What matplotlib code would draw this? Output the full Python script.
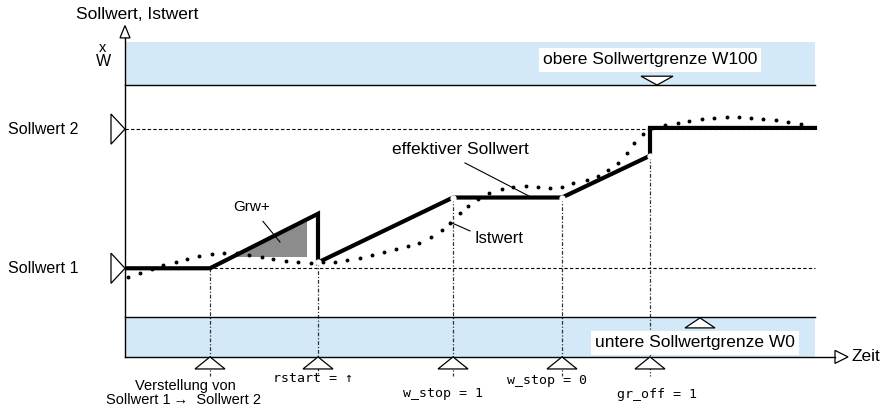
import matplotlib
matplotlib.use("Agg")
import matplotlib.pyplot as plt
from matplotlib.patches import Polygon, Rectangle

plt.rcParams['font.family'] = ['Liberation Sans', 'DejaVu Sans']

# Sollwert levels (0 = W0, 100 = W100)
w0 = 0
w100 = 100
sollwert1 = 21
sollwert2 = 81

# Schaltzeitpunkte
event_t = [85, 193, 328, 437, 525]
event_top = [21, 23.5, 51.5, 51.5, 69.5]
event_labels = ["", "rstart = \u2191", "w_stop = 1", "w_stop = 0", "gr_off = 1"]

# effektiver Sollwert
eff_t = [3, 85, 193, 193, 328, 437, 525, 525, 690]
eff_w = [21, 21, 44.5, 23.5, 51.5, 51.5, 69.5, 81.5, 81.5]

# Istwert
ist_t = [3, 15, 27, 38, 51, 62, 74, 87, 99, 112,
         124, 137, 148, 161, 173, 186, 198, 210, 222, 235,
         247, 259, 271, 283, 294, 306, 317, 325, 335, 343,
         353, 364, 377, 388, 401, 413, 425, 437, 448, 462,
         473, 483, 493, 502, 509, 518, 527, 540, 553, 564,
         577, 589, 602, 614, 626, 638, 651, 663, 676]
ist_w = [17.2, 19.0, 20.7, 22.4, 23.7, 25.0, 26.3, 27.2, 27.8, 27.6,
         26.7, 25.9, 25.0, 24.1, 23.7, 23.3, 23.5, 23.7, 24.6, 25.4,
         26.7, 28.2, 29.3, 30.6, 31.9, 34.5, 37.5, 40.5, 44.8, 47.8,
         50.9, 53.4, 55.2, 56.0, 56.5, 56.0, 55.6, 56.0, 57.8, 59.1,
         60.8, 63.4, 66.4, 70.7, 75.0, 78.9, 81.5, 82.8, 83.6, 84.5,
         85.3, 85.8, 86.2, 86.2, 85.8, 85.3, 84.9, 84.1, 83.2]

# Grw+ Dreieck (Gradient)
grw_t = [107, 182, 182]
grw_w = [25.8, 25.8, 42.1]

t_end = 690      # Ende der Baender
t_axis = -17.2   # Lage der Zeitachse
band_top = 118.5
blue = '#d3e9f8'

fig = plt.figure(figsize=(8.9, 4.12), dpi=100)
ax = fig.add_axes([0, 0, 1, 1])
ax.set_xlim(-125, 765)
ax.set_ylim(-40.95, 136.64)
ax.axis('off')

# Baender oben / unten
ax.add_patch(Rectangle((0, w100), t_end, band_top - w100, color=blue, lw=0, zorder=0))
ax.add_patch(Rectangle((0, t_axis), t_end, w0 - t_axis, color=blue, lw=0, zorder=0))
ax.plot([0, t_end], [w100, w100], color='black', lw=1.0)
ax.plot([0, t_end], [w0, w0], color='black', lw=1.0)

# Achsen
ax.plot([0, 0], [t_axis, 120.3], color='black', lw=1.0)
ax.add_patch(Polygon([(-5, 120.3), (5, 120.3), (0, 125.6)], closed=True,
                     fc='white', ec='black', lw=0.9))
ax.plot([0, 710], [t_axis, t_axis], color='black', lw=1.0)
ax.add_patch(Polygon([(710, t_axis - 2.8), (710, t_axis + 2.8), (723, t_axis)], closed=True,
                     fc='white', ec='black', lw=0.9))

# Sollwert-Linien
for lvl in [sollwert1, sollwert2]:
    ax.plot([0, t_end], [lvl, lvl], color='black', lw=0.8, ls=(0, (3, 2)))
    ax.add_patch(Polygon([(-14, lvl - 6.5), (-14, lvl + 6.5), (0, lvl)], closed=True,
                         fc='white', ec='black', lw=0.9, zorder=3))

# Grenzwert-Markierungen
ax.add_patch(Polygon([(516, 103.8), (548, 103.8), (532, w100)], closed=True,
                     fc='white', ec='black', lw=0.9, zorder=3))
ax.add_patch(Polygon([(560, -4.7), (590, -4.7), (575, -0.4)], closed=True,
                     fc='white', ec='black', lw=0.9, zorder=3))

# Ereignisse
for t, top, lab in zip(event_t, event_top, event_labels):
    ax.plot([t, t], [top, -25.5], color='#333333', lw=0.9, ls=(0, (3, 1.5, 1, 1.5)), zorder=1)
    ax.add_patch(Polygon([(t - 15, t_axis - 5.2), (t + 15, t_axis - 5.2), (t, t_axis)],
                         closed=True, fc='white', ec='black', lw=0.9, zorder=3))

ax.text(event_t[1] - 5, -26.3, event_labels[1], fontsize=9.5, family='DejaVu Sans Mono',
        ha='center', va='center')
ax.text(event_t[2] - 10, -32.8, event_labels[2], fontsize=9.5, family='DejaVu Sans Mono',
        ha='center', va='center')
ax.text(event_t[3] - 15, -27.2, event_labels[3], fontsize=9.5, family='DejaVu Sans Mono',
        ha='center', va='center')
ax.text(event_t[4] + 7, -33.6, event_labels[4], fontsize=9.5, family='DejaVu Sans Mono',
        ha='center', va='center')
ax.text(60, -29.7, "Verstellung von", fontsize=10.5, ha='center', va='center')
ax.text(58, -35.8, "Sollwert 1\u2009\u2192  Sollwert 2", fontsize=10.5, ha='center', va='center')

# Grw+ Flaeche
ax.add_patch(Polygon(list(zip(grw_t, grw_w)), closed=True, fc='#8c8c8c', ec='none', zorder=2))

# effektiver Sollwert und Istwert
ax.plot(eff_t, eff_w, color='black', lw=3.0, solid_joinstyle='miter', zorder=4)
ax.plot(ist_t, ist_w, ls='none', marker='o', ms=1.8, color='black', zorder=5)
ax.plot([event_t[1], event_t[2], event_t[3], event_t[4]],
        [event_top[1], event_top[2], event_top[3], event_top[4]],
        ls='none', marker='o', ms=3.5, mfc='white', mec='white', zorder=6)

# Beschriftungen
ax.text(12, 130.2, "Sollwert, Istwert", fontsize=12.5, ha='center', va='center')
ax.text(-22, 116, "x", fontsize=10.5, ha='center', va='center')
ax.text(-22, 110.3, "W", fontsize=11.5, ha='center', va='center')
ax.text(-117, sollwert2, "Sollwert 2", fontsize=11.5, ha='left', va='center')
ax.text(-117, sollwert1, "Sollwert 1", fontsize=11.5, ha='left', va='center')
ax.text(525, 110.8, "obere Sollwertgrenze W100", fontsize=12.5, ha='center', va='center',
        bbox=dict(fc='white', ec='none', pad=3), zorder=4)
ax.text(570, -11.2, "untere Sollwertgrenze W0", fontsize=12.5, ha='center', va='center',
        bbox=dict(fc='white', ec='none', pad=3), zorder=4)
ax.text(727, t_axis, "Zeit", fontsize=12.5, ha='left', va='center')

ax.text(127, 47.5, "Grw+", fontsize=11, ha='center', va='center')
ax.plot([138, 155], [41.2, 32.3], color='black', lw=0.8, zorder=6)
ax.text(335, 72, "effektiver Sollwert", fontsize=12.5, ha='center', va='center')
ax.plot([340, 405], [66.4, 51.9], color='black', lw=0.8)
ax.text(350, 34, "Istwert", fontsize=12, ha='left', va='center')
ax.plot([325, 345], [40.9, 37.1], color='black', lw=0.8)

fig.savefig("out.png", dpi=100)
